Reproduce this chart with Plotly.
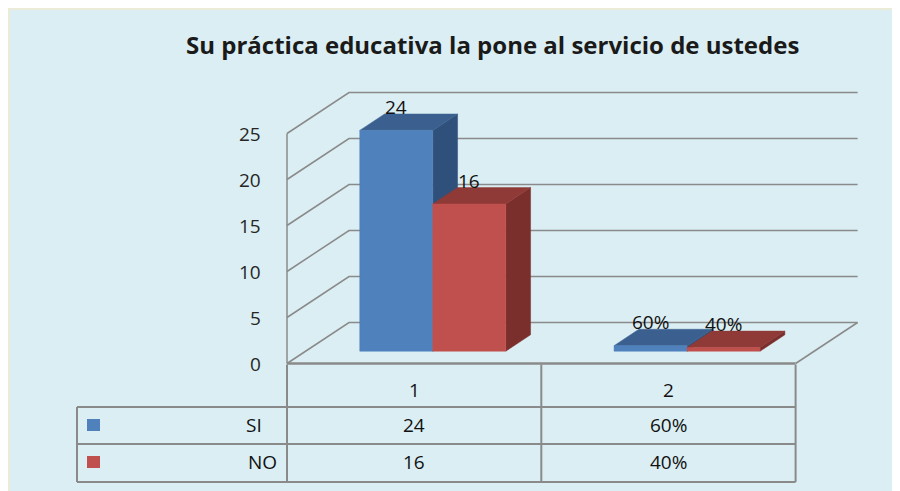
import plotly.graph_objects as go

# ---------------- data ----------------
title_text = "Su práctica educativa la pone al servicio de ustedes"
categories = ["1", "2"]
series_names = ["SI", "NO"]
si_values = [24, 0.60]
no_values = [16, 0.40]
si_labels = ["24", "60%"]
no_labels = ["16", "40%"]
y_ticks = [0, 5, 10, 15, 20, 25]

# ---------------- geometry ----------------
# The page puts the figure 8px from the top-left corner; layout constants below
# are given in page pixels and converted to figure pixels.
OFF = 8
W, H = 900 - OFF, 491 - OFF

def fx(px):
    return px - OFF

X0_PX = fx(287.0)     # front-left corner of floor
Y0_PX = fx(363.5)     # value 0 on front axis
CAT_PX = 254.3        # one category width in px
UNIT_PX = 9.2         # px per value unit
x_range = [-X0_PX / CAT_PX, (W - X0_PX) / CAT_PX]
y_range = [-(H - Y0_PX) / UNIT_PX, Y0_PX / UNIT_PX]

DX = 62.0 / CAT_PX      # wall depth (x) in category units
DY = 41.0 / UNIT_PX     # wall depth (y) in value units
T0, T1 = 0.30, 0.70     # bar front / back depth fraction
BAR_W = 73.0 / CAT_PX   # bar width in category units

def P(u, v, d):
    return u + d * DX, v + d * DY

def xp(px):
    return fx(px) / W

def yp(py):
    return 1 - fx(py) / H

GRID = "#8a8a8a"
BG = "#DAEEF3"
FONT = "Open Sans"
TXT = "#111111"
FS = 19
colors = {
    "front": ["#4F81BD", "#C0504D"],
    "top": ["#3B6090", "#8F3A37"],
    "side": ["#30507C", "#7A2F2D"],
}

fig = go.Figure()

def poly(pts, color):
    xs = [p[0] for p in pts] + [pts[0][0]]
    ys = [p[1] for p in pts] + [pts[0][1]]
    fig.add_trace(go.Scatter(x=xs, y=ys, mode="lines", fill="toself",
                             fillcolor=color, line=dict(color=color, width=0.5),
                             hoverinfo="skip", showlegend=False))

def line(pts, width=1.5, color=GRID):
    fig.add_trace(go.Scatter(x=[p[0] for p in pts], y=[p[1] for p in pts],
                             mode="lines", line=dict(color=color, width=width),
                             hoverinfo="skip", showlegend=False))

n_cat = len(categories)
vmax = max(y_ticks)

# gridlines on side wall + back wall
for v in y_ticks:
    line([P(0, v, 0), P(0, v, 1), P(n_cat, v, 1)])
# floor edges
line([P(n_cat, 0, 1), P(n_cat, 0, 0)])
line([P(0, 0, 0), P(n_cat, 0, 0)], width=2.5)
# front vertical axis
line([P(0, 0, 0), P(0, vmax, 0)])

# bars
annotations = []
series = [(si_values, si_labels), (no_values, no_labels)]
for i in range(n_cat):
    c = i + 0.5
    for s, (vals, labs) in enumerate(series):
        v = vals[i]
        ul = c - BAR_W + s * BAR_W
        ur = ul + BAR_W
        poly([P(ur, 0, T0), P(ur, 0, T1), P(ur, v, T1), P(ur, v, T0)], colors["side"][s])
        poly([P(ul, v, T0), P(ur, v, T0), P(ur, v, T1), P(ul, v, T1)], colors["top"][s])
        poly([P(ul, 0, T0), P(ur, 0, T0), P(ur, v, T0), P(ul, v, T0)], colors["front"][s])
        lx = P((ul + ur) / 2, v, T0)[0]
        ly = P((ul + ur) / 2, v, T1)[1]
        annotations.append(dict(x=lx, y=ly, xref="x", yref="y", text=labs[i],
                                showarrow=False, yanchor="middle", yshift=7,
                                font=dict(family=FONT, size=FS, color=TXT)))

# y tick labels
for v in y_ticks:
    x, y = P(0, v, 0)
    annotations.append(dict(x=x, y=y, xref="x", yref="y", text=str(v), showarrow=False,
                            xanchor="right", xshift=-24, yanchor="middle",
                            font=dict(family=FONT, size=FS, color="#262626")))

# title
annotations.append(dict(x=xp(493), y=yp(45), xref="paper", yref="paper", text=title_text,
                        showarrow=False, xanchor="center", yanchor="middle",
                        font=dict(family=FONT, size=24, color="#1a1a1a", weight="bold")))

# data table
row_y = [425, 462]
name_right = [264, 279]
row_vals = [si_labels, no_labels]
for i, cat in enumerate(categories):
    annotations.append(dict(x=i + 0.5, y=yp(390), xref="x", yref="paper", text=cat,
                            showarrow=False, yanchor="middle",
                            font=dict(family=FONT, size=FS, color=TXT)))
    for r in range(len(series_names)):
        annotations.append(dict(x=i + 0.5, y=yp(row_y[r]), xref="x", yref="paper",
                                text=row_vals[r][i], showarrow=False, yanchor="middle",
                                font=dict(family=FONT, size=FS, color=TXT)))
for r, name in enumerate(series_names):
    annotations.append(dict(x=xp(name_right[r]), y=yp(row_y[r]), xref="paper", yref="paper",
                            text=name, showarrow=False, xanchor="right", yanchor="middle",
                            font=dict(family=FONT, size=FS, color=TXT)))

shapes = []
# chart-area border
shapes.append(dict(type="rect", xref="paper", yref="paper", x0=xp(9), y0=yp(9), x1=1.02, y1=-0.02,
                   fillcolor=BG, line=dict(color="#ECEBD7", width=2), layer="below"))
TL = dict(color=GRID, width=2)
x_left_tbl = xp(77)
x_right_tbl = xp(287 + CAT_PX * n_cat)
# category boundary verticals
for k in range(n_cat + 1):
    shapes.append(dict(type="line", xref="x", yref="paper", x0=k, x1=k,
                       y0=yp(364.5), y1=yp(482), line=TL))
# outer rows
for py in [407, 444, 482]:
    shapes.append(dict(type="line", xref="paper", yref="paper", x0=x_left_tbl, x1=x_right_tbl,
                       y0=yp(py), y1=yp(py), line=TL))
shapes.append(dict(type="line", xref="paper", yref="paper", x0=x_left_tbl, x1=x_left_tbl,
                   y0=yp(407), y1=yp(482), line=TL))
# legend keys
for r in range(len(series_names)):
    cy = row_y[r]
    shapes.append(dict(type="rect", xref="paper", yref="paper", x0=xp(87), x1=xp(100),
                       y0=yp(cy - 6), y1=yp(cy + 6), fillcolor=colors["front"][r],
                       line=dict(width=0)))

fig.update_layout(
    width=W, height=H,
    margin=dict(l=0, r=0, t=0, b=0),
    paper_bgcolor="white", plot_bgcolor="rgba(0,0,0,0)",
    xaxis=dict(range=x_range, visible=False, domain=[0, 1], fixedrange=True),
    yaxis=dict(range=y_range, visible=False, domain=[0, 1], fixedrange=True),
    annotations=annotations, shapes=shapes, showlegend=False,
)

fig.write_html("out.html")
